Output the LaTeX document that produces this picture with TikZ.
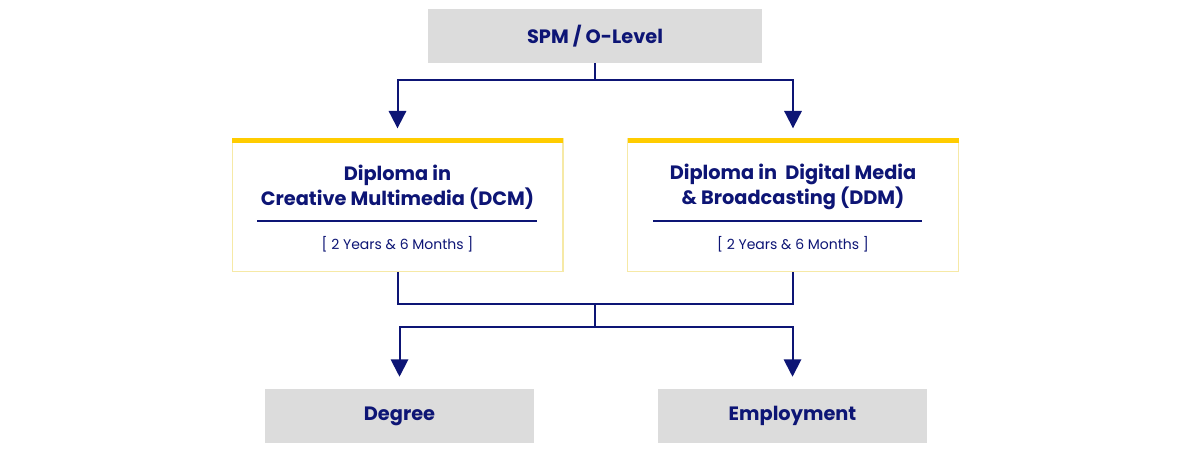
\documentclass[tikz,border=0pt]{standalone}
\usepackage{fontspec}
\setmainfont{Poppins}
\usetikzlibrary{arrows.meta}
\definecolor{navy}{HTML}{0D1575}
\definecolor{gbox}{HTML}{DCDCDC}
\definecolor{barcol}{HTML}{FFCC00}
\definecolor{yedge}{HTML}{F6E9A6}
\begin{document}
\begin{tikzpicture}[x=0.75pt,y=-0.75pt,
  graybox/.style={fill=gbox,draw=none,minimum height=40.5pt,inner sep=0pt,font=\fontsize{14.5}{16}\selectfont\bfseries,text=navy},
  dip/.style={draw=yedge,line width=1pt,fill=white,minimum width=248pt,minimum height=100pt,inner sep=0pt},
  con/.style={draw=navy,line width=1.5pt},
  arr/.style={con,-{Triangle[width=13pt,length=13pt]}},
  t1/.style={font=\fontsize{14.5}{18.5}\selectfont\bfseries,text=navy,align=center},
  t2/.style={font=\fontsize{10.5}{12}\selectfont,text=navy}]
\useasboundingbox (0,0) rectangle (1191,452);
\node[graybox,minimum width=250.5pt] (spm) at (595,36) {SPM / O-Level};
\node[dip] (d1) at (397.5,205) {};
\node[dip] (d2) at (793,205) {};
\fill[barcol] (232,138) rectangle (563,143.5);
\fill[barcol] (628,138) rectangle (959,143.5);
\node[t1] (d1t) at (397.5,187) {Diploma in\\Creative Multimedia (DCM)};
\node[t1] (d2t) at (793,187) {Diploma in\ \ Digital Media\\\& Broadcasting (DDM)};
\draw[navy,line width=1.2pt] (257,221) -- (537,221);
\draw[navy,line width=1.2pt] (653,221) -- (922,221);
\node[t2] (y1) at (397.5,244) {[ 2 Years \& 6 Months ]};
\node[t2] (y2) at (793,244) {[ 2 Years \& 6 Months ]};
\node[graybox,minimum width=202pt] (deg) at (399.5,416) {Degree};
\node[graybox,minimum width=202pt] (emp) at (792.5,416) {Employment};
\coordinate (s1) at (595,80);
\coordinate (s2) at (595,304);
\coordinate (s3) at (595,327);
\draw[con] (spm.south) -- (s1);
\draw[arr] (s1) -| ([yshift=7pt]d1.north);
\draw[arr] (s1) -| ([yshift=7pt]d2.north);
\draw[con] (d1.south) |- (s2);
\draw[con] (d2.south) |- (s2);
\draw[con] (s2) -- (s3);
\draw[arr] (s3) -| ([yshift=9pt]deg.north);
\draw[arr] (s3) -| ([yshift=9pt]emp.north);
\end{tikzpicture}
\end{document}
